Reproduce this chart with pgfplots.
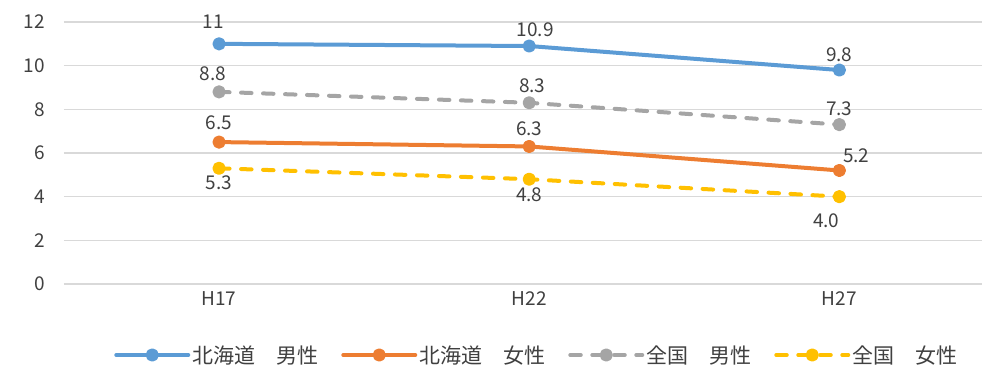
\documentclass[border=0pt]{standalone}
\usepackage{fontspec}
\setmainfont{Noto Sans CJK JP}
\usepackage{pgfplots}
\usepackage{pgfplotstable}
\pgfplotsset{compat=1.18}

\definecolor{cBlue}{HTML}{5B9BD5}
\definecolor{cOrange}{HTML}{ED7D31}
\definecolor{cGray}{HTML}{A5A5A5}
\definecolor{cYellow}{HTML}{FFC000}
\definecolor{cGrid}{HTML}{D9D9D9}
\definecolor{cText}{HTML}{404040}

% x: 0=H17, 1=H22, 2=H27 ; dx/dy: label offset from the point
\pgfplotstableread{
x y dx dy lab
0 11.0 -6 22 11
1 10.9 6 16 10.9
2 9.8 0 15 9.8
}\hokMale
\pgfplotstableread{
x y dx dy lab
0 6.5 0 19 6.5
1 6.3 0 18 6.3
2 5.2 17 15 5.2
}\hokFemale
\pgfplotstableread{
x y dx dy lab
0 8.8 -6 18 8.8
1 8.3 3 17 8.3
2 7.3 0 16 7.3
}\natMale
\pgfplotstableread{
x y dx dy lab
0 5.3 0 -14 5.3
1 4.8 0 -16 4.8
2 4.0 -13 -24 4.0
}\natFemale

\begin{document}
\begin{tikzpicture}
\begin{axis}[
  at={(0pt,0pt)}, anchor=south west,
  scale only axis,
  width=918pt, height=262pt,
  xmin=-0.5, xmax=2.46,
  ymin=0, ymax=12,
  xtick={0,1,2}, xticklabels={H17,H22,H27},
  ytick={0,2,...,12},
  axis line style={draw=none},
  major tick length=0pt,
  ymajorgrids,
  grid style={draw=cGrid, line width=1.3pt},
  tick label style={font=\fontsize{19}{22}\selectfont, text=cText},
  /pgf/number format/assume math mode=true,
  yticklabel style={xshift=-14pt},
  xticklabel style={yshift=-2pt},
  clip=false,
  line width=4pt,
  every axis plot/.append style={line cap=round, line join=round},
  mark size=4.6pt,
  nodes near coords,
  point meta=explicit symbolic,
  visualization depends on={\thisrow{dx}\as\dx},
  visualization depends on={\thisrow{dy}\as\dy},
  every node near coord/.append style={anchor=center, xshift=\dx pt, yshift=\dy pt,
    font=\fontsize{19}{22}\selectfont, text=cText, inner sep=0pt},
  legend columns=4,
  legend style={at={(0.515,-0.271)}, anchor=center, draw=none, fill=none,
    font=\fontsize{21}{24}\selectfont, text=cText,
    /tikz/every even column/.append style={column sep=21pt},
    inner sep=0pt},
  legend cell align=left,
  legend image code/.code={%
    \draw[mark repeat=2, mark phase=2, #1] plot coordinates {(0pt,0pt) (36pt,0pt) (72pt,0pt)};},
]
\addplot[color=cBlue, mark=*, mark options={solid}] table[x=x, y=y, meta=lab] {\hokMale};
\addlegendentry{北海道　男性}
\addplot[color=cOrange, mark=*, mark options={solid}] table[x=x, y=y, meta=lab] {\hokFemale};
\addlegendentry{北海道　女性}
\addplot[color=cGray, mark=*, mark options={solid}, dash pattern=on 10.5pt off 11.5pt] table[x=x, y=y, meta=lab] {\natMale};
\addlegendentry{全国　男性}
\addplot[color=cYellow, mark=*, mark options={solid}, dash pattern=on 10.5pt off 11.5pt] table[x=x, y=y, meta=lab] {\natFemale};
\addlegendentry{全国　女性}
\end{axis}
\pgfresetboundingbox
\useasboundingbox (-64pt,-83pt) rectangle (918pt,284pt);
\end{tikzpicture}
\end{document}
